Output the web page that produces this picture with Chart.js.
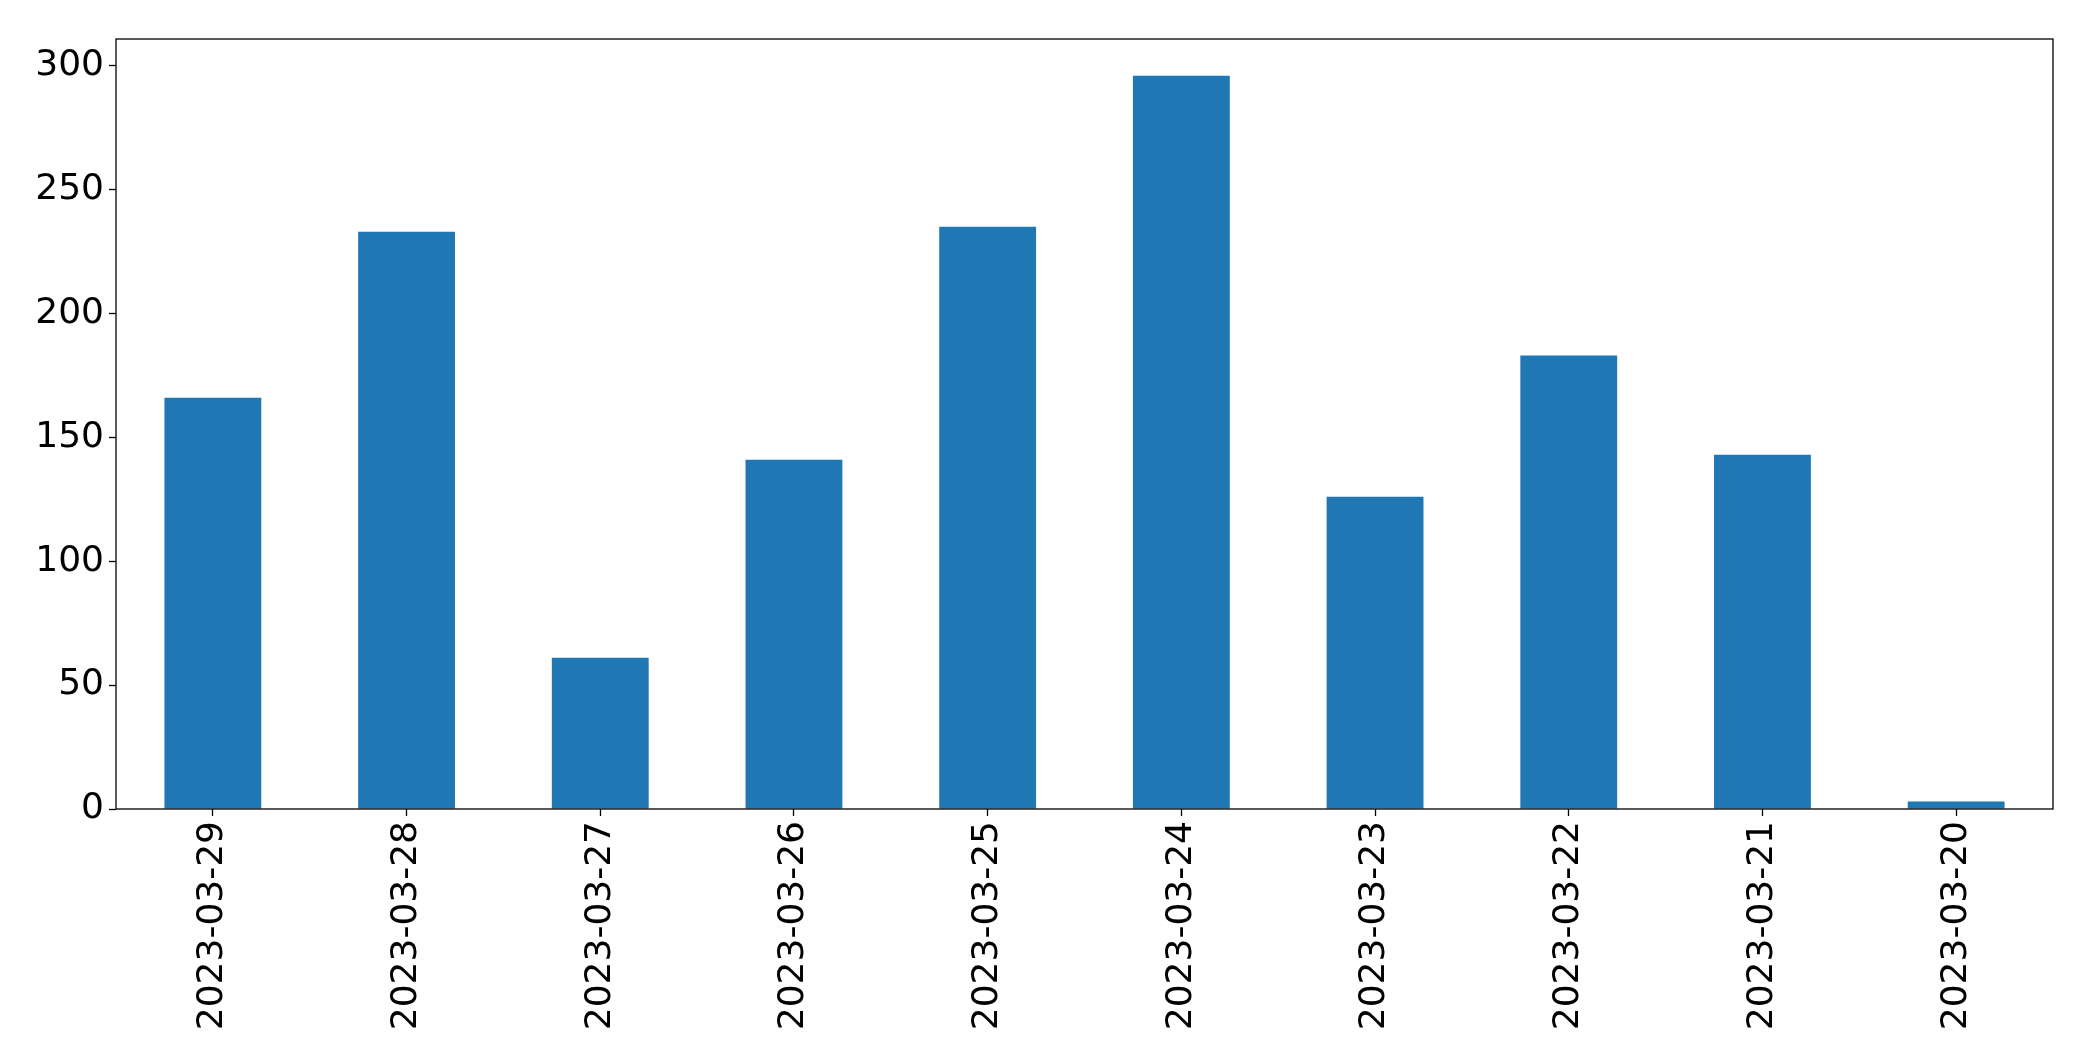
<!DOCTYPE html>
<html>
<head>
<meta charset="utf-8">
<script src="https://cdn.jsdelivr.net/npm/chart.js@4"></script>
<style>
    html, body { margin: 0; padding: 0; background: #fff; }
    canvas { display: block; }
</style>
</head>
<body>
<canvas id="chart" width="2093" height="1061"></canvas>
<script>
const dates = ['2023-03-29', '2023-03-28', '2023-03-27', '2023-03-26', '2023-03-25',
               '2023-03-24', '2023-03-23', '2023-03-22', '2023-03-21', '2023-03-20'];
const counts = [166, 233, 61, 141, 235, 296, 126, 183, 143, 3];
const yTicks = [0, 50, 100, 150, 200, 250, 300];

// full box round the plot, like matplotlib's spines
const frame = {
    id: 'frame',
    afterDraw(chart) {
        const { ctx, chartArea: a } = chart;
        ctx.save();
        ctx.strokeStyle = '#000';
        ctx.lineWidth = 1.3;
        ctx.strokeRect(a.left, a.top, a.right - a.left, a.bottom - a.top);
        ctx.restore();
    }
};

Chart.defaults.font.family = '"DejaVu Sans", sans-serif';
Chart.defaults.font.size = 36;
Chart.defaults.color = '#000';

new Chart(document.getElementById('chart'), {
    type: 'bar',
    data: {
        labels: dates,
        datasets: [{
            data: counts,
            backgroundColor: '#1f77b4',
            borderWidth: 0,
            barPercentage: 0.5,
            categoryPercentage: 1.0
        }]
    },
    options: {
        responsive: false,
        animation: false,
        devicePixelRatio: 1,
        layout: { padding: { top: 39, right: 40, left: 0, bottom: 0 } },
        scales: {
            x: {
                offset: true,
                grid: {
                    display: true,
                    drawOnChartArea: false,
                    offset: false,
                    color: '#000',
                    tickLength: 7,
                    tickWidth: 1.3
                },
                border: { display: false },
                ticks: {
                    minRotation: 90,
                    maxRotation: 90,
                    autoSkip: false,
                    padding: 5
                },
                afterFit(scale) { scale.height = 1061 - 809; }
            },
            y: {
                min: 0,
                max: Math.max(...counts) * 1.05,
                grid: {
                    display: true,
                    drawOnChartArea: false,
                    color: '#000',
                    tickLength: 7,
                    tickWidth: 1.3
                },
                border: { display: false },
                ticks: { padding: 5 },
                afterBuildTicks(scale) {
                    scale.ticks = yTicks.map(v => ({ value: v }));
                },
                afterFit(scale) { scale.width = 116; }
            }
        },
        plugins: {
            legend: { display: false },
            tooltip: { enabled: false }
        }
    },
    plugins: [frame]
});
</script>
</body>
</html>
